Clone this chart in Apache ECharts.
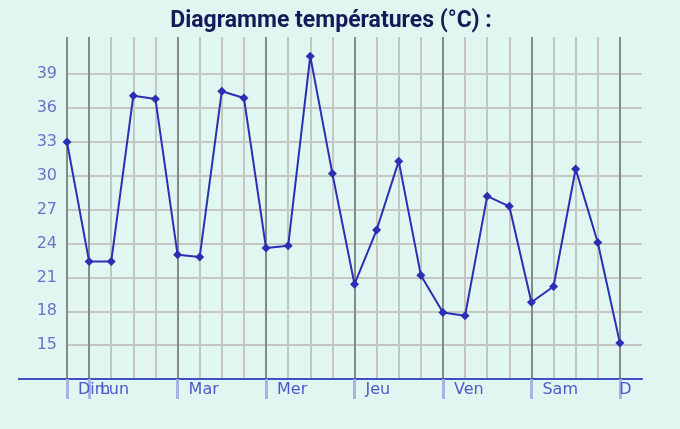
<!DOCTYPE html>
<html>
<head>
<meta charset="utf-8">
<script src="https://cdn.jsdelivr.net/npm/echarts@6/dist/echarts.min.js"></script>
<style>
  html, body { margin: 0; padding: 0; background: #e1f5f1; }
  #chart { width: 680px; height: 429px; }
</style>
</head>
<body>
<div id="chart"></div>
<script>
  // catégories (une tous les 4 relevés = un jour)
  const categories = ['Dim', 'Lun', '', '', '', 'Mar', '', '', '', 'Mer', '', '', '',
    'Jeu', '', '', '', 'Ven', '', '', '', 'Sam', '', '', '', 'Dim', ''];
  // températures relevées
  const temps = [33, 22.4, 22.4, 37.1, 36.8, 23, 22.8, 37.5, 36.9, 23.6, 23.8, 40.6, 30.2,
    20.4, 25.2, 31.3, 21.2, 17.9, 17.6, 28.2, 27.3, 18.8, 20.2, 30.6, 24.1, 15.2];
  // graduations affichées
  const yTicks = [15, 18, 21, 24, 27, 30, 33, 36, 39];

  const myChart = echarts.init(document.getElementById('chart'));

  // couleurs des lignes verticales : foncé au début de chaque jour
  const vColors = categories.map(function (c, i) {
    if (i === categories.length - 1) return 'rgba(0,0,0,0)';
    return (i === 0 || c !== '') ? '#858a86' : '#c3c6c1';
  });
  // lignes horizontales : seulement pour les graduations affichées
  const hColors = ['rgba(0,0,0,0)'];
  yTicks.forEach(function () { hColors.push('#c3c6c1'); });
  hColors.push('rgba(0,0,0,0)', 'rgba(0,0,0,0)');

  // le dernier jour est coupé au bord du graphique
  const xData = categories.map(function (c, i) {
    if (i === categories.length - 2) {
      return { value: c, textStyle: { width: 16, overflow: 'truncate', ellipsis: '' } };
    }
    return c;
  });

  myChart.setOption({
    backgroundColor: '#e1f5f1',
    animation: false,
    title: {
      text: 'Diagramme températures (°C) :',
      left: 326,
      textAlign: 'center',
      top: 5,
      textStyle: {
        fontFamily: 'Roboto',
        fontWeight: 'bold',
        fontSize: 23,
        color: '#141a58'
      }
    },
    grid: {
      left: 67,
      right: 38,
      top: 37,
      bottom: 50,
      containLabel: false
    },
    xAxis: {
      type: 'category',
      boundaryGap: false,
      data: xData,
      axisLine: {
        lineStyle: { color: '#3f4fc4', width: 2 }
      },
      axisTick: {
        interval: function (index, value) { return value !== ''; },
        length: 20,
        lineStyle: { color: '#a8b2e6', width: 3 }
      },
      axisLabel: {
        interval: 0,
        align: 'left',
        padding: [0, 0, 0, 11],
        margin: 3,
        fontFamily: 'DejaVu Sans',
        fontSize: 16,
        color: '#4c5bc8'
      },
      splitLine: {
        show: true,
        interval: 0,
        lineStyle: { color: vColors, width: 2 }
      }
    },
    yAxis: {
      type: 'value',
      min: 12,
      max: 42.3,
      interval: 3,
      axisLine: { show: false },
      axisTick: { show: false },
      axisLabel: {
        margin: 10,
        fontFamily: 'DejaVu Sans',
        fontSize: 16,
        color: '#6a72c6',
        formatter: function (v) {
          return yTicks.indexOf(v) >= 0 ? String(v) : '';
        }
      },
      splitLine: {
        lineStyle: { color: hColors, width: 2 }
      }
    },
    graphic: [{
      type: 'rect',
      left: 18,
      top: 378,
      shape: { width: 50, height: 2 },
      style: { fill: '#3f4fc4' }
    }],
    series: [{
      name: 'Température',
      type: 'line',
      data: temps,
      symbol: 'diamond',
      symbolSize: 9,
      color: '#2a2fb3',
      lineStyle: { color: '#2a2fb3', width: 2 },
      itemStyle: { color: '#2a2fb3' }
    }]
  });
  window.addEventListener('resize', myChart.resize);
</script>
</body>
</html>
